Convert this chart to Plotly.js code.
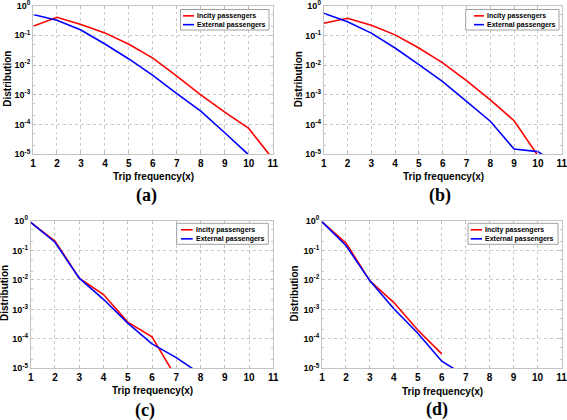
<!DOCTYPE html>
<html>
<head>
<meta charset="utf-8">
<script src="https://cdn.plot.ly/plotly-3.0.1.min.js"></script>
<style>html,body{margin:0;padding:0;background:#fff;}#chart{width:567px;height:420px;}</style>
</head>
<body>
<div id="chart"></div>
<script>
// ---- data ----
const seriesNames = ['Incity passengers', 'External passengers'];
const xA_in = [1,2,3,4,5,6,7,8,9,10,11];
const incityA = [0.2, 0.4, 0.23, 0.12, 0.05, 0.017, 0.0042, 0.001, 2.6e-4, 7.4e-5, 7e-6];
const xA_ex = [1,2,3,4,5,6,7,8,9,10];
const externalA = [0.5, 0.32, 0.15, 0.051, 0.016, 0.0045, 0.0011, 2.8e-4, 5.3e-5, 9.5e-6];

const xB_in = [1,2,3,4,5,6,7,8,9,10];
const incityB = [0.26, 0.38, 0.22, 0.105, 0.038, 0.012, 0.003, 6.8e-4, 1.35e-4, 9e-6];
const xB_ex = [1,2,3,4,5,6,7,8,9,10,11];
const externalB = [0.56, 0.29, 0.12, 0.038, 0.0105, 0.0028, 6.1e-4, 1.3e-4, 1.5e-5, 1.23e-5, 3.6e-6];

const xC_in = [1,2,3,4,5,6,7];
const incityC = [0.9, 0.21, 0.0115, 0.0032, 3.7e-4, 1.17e-4, 4.8e-6];
const xC_ex = [1,2,3,4,5,6,7,8];
const externalC = [0.9, 0.19, 0.0115, 0.0022, 3.4e-4, 6.7e-5, 2.3e-5, 6.4e-6];

const xD_in = [1,2,3,4,5,6];
const incityD = [0.93, 0.18, 0.0093, 0.0017, 2.0e-4, 3.1e-5];
const xD_ex = [1,2,3,4,5,6,7];
const externalD = [0.93, 0.148, 0.0093, 0.00105, 1.55e-4, 1.74e-5, 5.5e-6];

const xTickVals = [1,2,3,4,5,6,7,8,9,10,11];
const yTickVals = [1, 0.1, 0.01, 0.001, 1e-4, 1e-5];
const yTickText = ['10<sup>0</sup>','10<sup>-1</sup>','10<sup>-2</sup>','10<sup>-3</sup>','10<sup>-4</sup>','10<sup>-5</sup>'];
const panelLabels = ['(a)','(b)','(c)','(d)'];
const xTitle = 'Trip frequency(x)';
const yTitle = 'Distribution';

// ---- layout helpers ----
const W = 567, H = 420;
const px = v => v / W;
const py = v => 1 - v / H;
const RED = '#ff0000', BLUE = '#0000ff';
const SANS = 'Liberation Sans, Arial, sans-serif';

const panels = [
  {xs: [xA_in, xA_ex], ys: [incityA, externalA], box: [33, 5.5, 272.7, 154.3],
   xt: [153, 176.7], yt: [6.7, 79], lab: [146, 195.5], leg: [180.5, 9.5, 269, 30], legLine: [183, 194]},
  {xs: [xB_in, xB_ex], ys: [incityB, externalB], box: [323.7, 5.8, 561.7, 154.3],
   xt: [443, 176.7], yt: [298.7, 79.5], lab: [440, 195], leg: [465.7, 9.5, 559, 30], legLine: [474, 484]},
  {xs: [xC_in, xC_ex], ys: [incityC, externalC], box: [30.7, 221, 273.3, 368.3],
   xt: [152, 390], yt: [4.7, 293.3], lab: [145, 410], leg: [176.7, 223.3, 268.3, 244.3], legLine: [181, 192.7]},
  {xs: [xD_in, xD_ex], ys: [incityD, externalD], box: [322, 221, 561.5, 368.3],
   xt: [442, 391], yt: [294.2, 293.3], lab: [437, 409.5], leg: [468, 223.3, 558, 244.3], legLine: [470.7, 482]}
];

const data = [];
const layout = {
  width: W, height: H,
  margin: {l: 0, r: 0, t: 0, b: 0},
  paper_bgcolor: '#ffffff', plot_bgcolor: '#ffffff',
  showlegend: false,
  font: {family: SANS, size: 10, color: '#000'},
  annotations: [], shapes: []
};

panels.forEach((p, i) => {
  const n = i === 0 ? '' : String(i + 1);
  const colors = [RED, BLUE];
  for (let s = 0; s < 2; s++) {
    data.push({
      x: p.xs[s], y: p.ys[s], type: 'scatter', mode: 'lines',
      name: seriesNames[s],
      line: {color: colors[s], width: 1.6},
      xaxis: 'x' + n, yaxis: 'y' + n, cliponaxis: true, hoverinfo: 'skip'
    });
  }
  const [x0, y0, x1, y1] = p.box;
  layout['xaxis' + n] = {
    domain: [px(x0), px(x1)], anchor: 'y' + n, range: [1, 11],
    tickmode: 'array', tickvals: xTickVals,
    ticks: 'inside', ticklen: 3, tickcolor: '#bdbdbd',
    showline: true, linecolor: '#c4c4c4', linewidth: 1, mirror: 'ticks',
    showgrid: true, gridcolor: '#c8c8c8', griddash: 'dot', gridwidth: 1,
    zeroline: false, automargin: false, fixedrange: true,
    ticklabeloverflow: 'allow',
    tickfont: {family: SANS, size: 10, weight: 'bold', color: '#000'}
  };
  layout['yaxis' + n] = {
    domain: [py(y1), py(y0)], anchor: 'x' + n, type: 'log', range: [-5, 0],
    tickmode: 'array', tickvals: yTickVals, ticktext: yTickText,
    ticks: 'inside', ticklen: 3, tickcolor: '#bdbdbd',
    minor: {ticks: 'inside', ticklen: 2, tickcolor: '#c8c8c8', showgrid: false},
    showline: true, linecolor: '#c4c4c4', linewidth: 1, mirror: 'ticks',
    showgrid: true, gridcolor: '#c8c8c8', griddash: 'dot', gridwidth: 1,
    zeroline: false, automargin: false, fixedrange: true,
    ticklabeloverflow: 'allow', ticklabelshift: -1.5,
    tickfont: {family: SANS, size: 9, weight: 'bold', color: '#000'}
  };
  // axis titles
  layout.annotations.push({
    text: xTitle, xref: 'paper', yref: 'paper', x: px(p.xt[0]), y: py(p.xt[1]),
    xanchor: 'center', yanchor: 'middle', showarrow: false,
    font: {family: SANS, size: 10, weight: 'bold', color: '#000'}
  });
  layout.annotations.push({
    text: yTitle, xref: 'paper', yref: 'paper', x: px(p.yt[0]), y: py(p.yt[1]),
    xanchor: 'center', yanchor: 'middle', showarrow: false, textangle: -90,
    font: {family: SANS, size: 10, weight: 'bold', color: '#000'}
  });
  // panel label
  layout.annotations.push({
    text: panelLabels[i], xref: 'paper', yref: 'paper', x: px(p.lab[0]), y: py(p.lab[1]),
    xanchor: 'center', yanchor: 'middle', showarrow: false, borderpad: 0,
    font: {family: 'Liberation Serif, Times New Roman, serif', size: 18, weight: 'bold', color: '#000'}
  });
  // legend box
  const [lx0, ly0, lx1, ly1] = p.leg;
  layout.shapes.push({type: 'rect', xref: 'paper', yref: 'paper',
    x0: px(lx0), x1: px(lx1), y0: py(ly1), y1: py(ly0),
    line: {color: '#a0a0a0', width: 1}, fillcolor: '#ffffff', layer: 'above'});
  const rowY = [ly0 + (ly1 - ly0) * 0.31, ly0 + (ly1 - ly0) * 0.74];
  for (let s = 0; s < 2; s++) {
    layout.shapes.push({type: 'line', xref: 'paper', yref: 'paper',
      x0: px(p.legLine[0]), x1: px(p.legLine[1]), y0: py(rowY[s]), y1: py(rowY[s]),
      line: {color: colors[s], width: 1.6}, layer: 'above'});
    layout.annotations.push({
      text: seriesNames[s], xref: 'paper', yref: 'paper',
      x: px(p.legLine[1] + 1), y: py(rowY[s]), xanchor: 'left', yanchor: 'middle',
      showarrow: false, font: {family: SANS, size: 7, weight: 'bold', color: '#000'}
    });
  }
});

Plotly.newPlot('chart', data, layout, {staticPlot: true, displayModeBar: false});
</script>
</body>
</html>
